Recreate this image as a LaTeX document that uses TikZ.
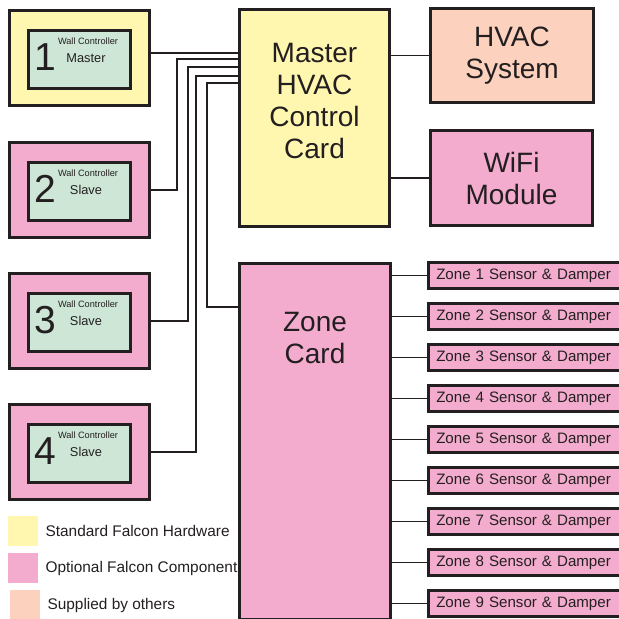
\documentclass[tikz,border=0pt]{standalone}
\usepackage{fontspec}
\setmainfont{Liberation Sans}
\usepackage{xcolor}
\definecolor{falcon-yellow}{HTML}{FFF6B0}
\definecolor{falcon-pink}{HTML}{F3ACCD}
\definecolor{falcon-peach}{HTML}{FCD1BE}
\definecolor{falcon-green}{HTML}{CDE6D5}
\definecolor{falcon-ink}{HTML}{231F20}
\usepackage{tikz}
\usetikzlibrary{positioning}

\begin{document}
\begin{tikzpicture}[x=1pt, y=-1pt,
    card/.style={draw=falcon-ink, line width=3pt, inner sep=0pt, anchor=north west},
    cardtext/.style={text=falcon-ink, align=center, font=\fontsize{28}{32}\selectfont},
    panel/.style={draw=falcon-ink, line width=2.5pt, inner sep=0pt, anchor=north west,
        minimum width=140pt, minimum height=95pt},
    screen/.style={draw=falcon-ink, line width=2.5pt, fill=falcon-green, inner sep=0pt,
        minimum width=102pt, minimum height=58pt},
    digit/.style={text=falcon-ink, inner sep=0pt, font=\fontsize{39}{39}\selectfont},
    small/.style={text=falcon-ink, inner sep=0pt, font=\fontsize{9.2}{10}\selectfont},
    role/.style={text=falcon-ink, inner sep=0pt, font=\fontsize{12.8}{14}\selectfont},
    zonebox/.style={draw=falcon-ink, line width=2.5pt, fill=falcon-pink, anchor=west,
        inner xsep=8pt, inner ysep=0pt, text width=184pt, align=left, minimum height=26pt,
        text=falcon-ink, font=\fontsize{15.1}{18}\selectfont},
    swatch/.style={inner sep=0pt, minimum size=30pt, anchor=north west},
    keytext/.style={text=falcon-ink, inner sep=0pt, font=\fontsize{15.4}{18}\selectfont},
    wire/.style={draw=falcon-ink, line width=2pt},
    thinwire/.style={draw=falcon-ink, line width=1.5pt}]

    \useasboundingbox (0,0) rectangle (619,619);

    % Cards
    \node[card, fill=falcon-yellow, minimum width=150pt, minimum height=217pt] (master) at (238,8) {};
    \node[cardtext] at ([yshift=17pt]master.center) {Master\\HVAC\\Control\\Card};
    \node[card, fill=falcon-peach, minimum width=163pt, minimum height=94pt, cardtext] (hvac) at (429,7) {HVAC\\System};
    \node[card, fill=falcon-pink, minimum width=162pt, minimum height=95pt, cardtext] (wifi) at (429,129) {WiFi\\Module};
    \node[card, fill=falcon-pink, minimum width=151pt, minimum height=356pt] (zonecard) at (238,262) {};
    \node[cardtext] at ([yshift=104pt]zonecard.center) {Zone\\Card};

    \draw[thinwire] (hvac.west -| master.east) -- (hvac.west);
    \draw[thinwire] (wifi.west -| master.east) -- (wifi.west);

    % Wall controllers
    \foreach \n/\y/\col/\mode in {1/9/falcon-yellow/Master, 2/141/falcon-pink/Slave,
                                 3/272/falcon-pink/Slave, 4/403/falcon-pink/Slave} {
        \node[panel, fill=\col] (wc\n) at (8,\y) {};
        \node[screen] (scr\n) at ([yshift=-1.5pt]wc\n.center) {};
        \node[digit] at ([xshift=18pt, yshift=2pt]scr\n.west) {\n};
        \node[small] at ([xshift=61pt, yshift=-12pt]scr\n.north west) {Wall Controller};
        \node[role] at ([xshift=59pt, yshift=1pt]scr\n.west) {\mode};
    }

    % Bus to the master card
    \coordinate (bus2) at (177,59);
    \coordinate (bus3) at (188,67);
    \coordinate (bus4) at (196,76);
    \coordinate (bus5) at (207,83);
    \coordinate (drop5) at (207,307);
    \draw[wire] ([yshift=5pt]wc1.east) coordinate (bus1) -- (bus1 -| master.west);
    \draw[wire] (wc2.east) -| (bus2) -- (bus2 -| master.west);
    \draw[wire] (wc3.east) -| (bus3) -- (bus3 -| master.west);
    \draw[wire] (wc4.east) -| (bus4) -- (bus4 -| master.west);
    \draw[wire] (bus5 -| master.west) -- (bus5) -- (drop5) -- (drop5 -| zonecard.west);

    % Zones
    \foreach \i in {1,...,9} {
        \node[zonebox] (zone\i) at (427,{275.5+41*(\i-1)}) {Zone \i{} Sensor \& Damper};
        \draw[thinwire] (zone\i.west -| zonecard.east) -- (zone\i.west);
    }

    % Legend
    \node[swatch, fill=falcon-yellow] (key1) at (8,516) {};
    \node[swatch, fill=falcon-pink] (key2) at (8,553) {};
    \node[swatch, fill=falcon-peach] (key3) at (10,590) {};
    \node[keytext, right=7pt of key1] {Standard Falcon Hardware};
    \node[keytext, right=7pt of key2] {Optional Falcon Component};
    \node[keytext, right=7pt of key3] {Supplied by others};

\end{tikzpicture}
\end{document}
